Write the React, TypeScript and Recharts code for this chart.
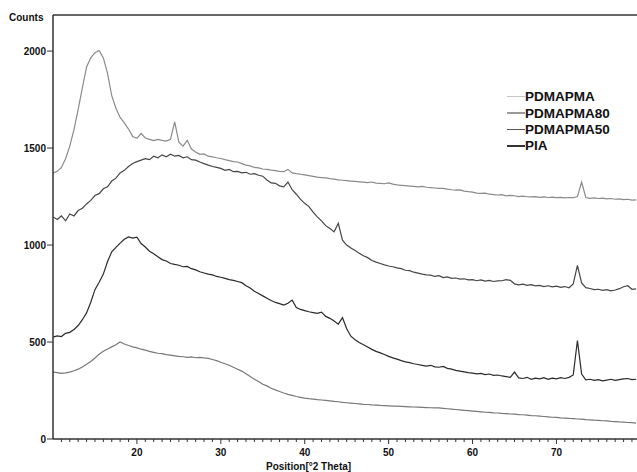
import { Legend, Line, LineChart, ReferenceLine, XAxis, YAxis } from "recharts";

// 2θ positions (degrees), one reading every 0.5°
const twoTheta = [
  10, 10.5, 11, 11.5, 12, 12.5, 13, 13.5, 14, 14.5,
  15, 15.5, 16, 16.5, 17, 17.5, 18, 18.5, 19, 19.5,
  20, 20.5, 21, 21.5, 22, 22.5, 23, 23.5, 24, 24.5,
  25, 25.5, 26, 26.5, 27, 27.5, 28, 28.5, 29, 29.5,
  30, 30.5, 31, 31.5, 32, 32.5, 33, 33.5, 34, 34.5,
  35, 35.5, 36, 36.5, 37, 37.5, 38, 38.5, 39, 39.5,
  40, 40.5, 41, 41.5, 42, 42.5, 43, 43.5, 44, 44.5,
  45, 45.5, 46, 46.5, 47, 47.5, 48, 48.5, 49, 49.5,
  50, 50.5, 51, 51.5, 52, 52.5, 53, 53.5, 54, 54.5,
  55, 55.5, 56, 56.5, 57, 57.5, 58, 58.5, 59, 59.5,
  60, 60.5, 61, 61.5, 62, 62.5, 63, 63.5, 64, 64.5,
  65, 65.5, 66, 66.5, 67, 67.5, 68, 68.5, 69, 69.5,
  70, 70.5, 71, 71.5, 72, 72.5, 73, 73.5, 74, 74.5,
  75, 75.5, 76, 76.5, 77, 77.5, 78, 78.5, 79, 79.5,
];

const pdmapma = [
  1370, 1380, 1400, 1445, 1510, 1595, 1700, 1810, 1918, 1965,
  1992, 2003, 1965, 1885, 1770, 1705, 1658, 1630, 1598, 1560,
  1550, 1575, 1552, 1545, 1538, 1545, 1540, 1536, 1545, 1635,
  1530, 1510, 1540, 1495, 1480, 1468, 1470, 1458, 1455, 1450,
  1446, 1440, 1435, 1430, 1428, 1420, 1412, 1408, 1400, 1398,
  1392, 1390, 1386, 1384, 1380, 1378, 1390, 1372, 1368, 1365,
  1362, 1358, 1354, 1350, 1348, 1346, 1342, 1340, 1336, 1334,
  1332, 1330, 1328, 1326, 1324, 1322, 1325, 1319, 1318, 1316,
  1320, 1314, 1310, 1308, 1306, 1304, 1302, 1300, 1302, 1298,
  1296, 1294, 1292, 1292, 1288, 1285, 1283, 1284, 1278, 1275,
  1273, 1268, 1266, 1268, 1262, 1260, 1258, 1260, 1254, 1256,
  1254, 1250, 1252, 1249, 1248, 1250, 1246, 1248, 1245, 1247,
  1244, 1246, 1243, 1245, 1244, 1250, 1325, 1245, 1241, 1243,
  1240, 1242, 1238, 1240, 1236, 1238, 1234, 1236, 1232, 1233,
];

const pdmapma80 = [
  1145, 1132, 1150, 1125, 1160, 1150, 1178, 1190, 1212, 1230,
  1255, 1265, 1290, 1300, 1330, 1345, 1372, 1385, 1405, 1420,
  1430, 1438, 1445, 1440, 1458, 1450, 1465, 1455, 1468, 1458,
  1462, 1450, 1455, 1440, 1438, 1428, 1420, 1412, 1405, 1400,
  1395, 1385, 1390, 1378, 1380, 1372, 1375, 1365, 1368, 1360,
  1355, 1335, 1320, 1318, 1305, 1300, 1325, 1285, 1262, 1235,
  1215, 1198, 1170, 1145, 1125, 1100, 1085, 1068, 1112, 1025,
  1000, 985, 972, 958, 945, 935, 920, 912, 905, 898,
  892, 888, 882, 878, 870, 868, 860, 855, 850, 846,
  845, 838, 842, 832, 836, 828, 830, 824, 826, 820,
  822, 816, 820, 814, 818, 812, 815, 816, 822, 818,
  800, 795, 798, 792, 796, 790, 792, 786, 790, 784,
  788, 782, 786, 780, 800, 895, 805, 780, 776, 770,
  772, 766, 770, 764, 768, 775, 785, 790, 772, 774,
];

const pdmapma50 = [
  525, 532, 528, 545, 550, 565, 585, 615, 650, 705,
  770, 808, 850, 915, 965, 988, 1010, 1030, 1042, 1036,
  1040, 1008, 990, 968, 955, 940, 925, 918, 905, 900,
  896, 888, 890, 878, 872, 862, 856, 850, 846, 838,
  834, 828, 822, 818, 812, 806, 790, 778, 762, 750,
  738, 726, 714, 704, 698, 690, 700, 716, 678, 668,
  662, 656, 652, 648, 654, 632, 622, 608, 592, 626,
  568, 530, 512, 498, 486, 474, 462, 452, 444, 436,
  426, 418, 412, 404, 398, 394, 388, 384, 380, 376,
  380, 372, 370, 374, 364, 360, 354, 350, 346, 342,
  340, 336, 338, 332, 335, 328, 330, 325, 322, 318,
  345, 315, 312, 318, 308, 314, 310, 316, 308, 314,
  310, 316, 312, 318, 330, 508, 335, 305, 308, 302,
  306, 300, 304, 308, 302, 306, 310, 312, 306, 308,
];

const pia = [
  345, 342, 338, 341, 345, 352, 360, 371, 385, 400,
  418, 437, 452, 464, 475, 486, 500, 490, 482, 475,
  470, 463, 458, 452, 447, 442, 440, 435, 432, 429,
  426, 424, 421, 423, 419, 421, 418, 416, 410, 404,
  396, 388, 380, 370, 360, 350, 336, 322, 308, 296,
  282, 274, 262, 253, 245, 237, 230, 225, 219, 215,
  211, 208, 206, 203, 201, 199, 197, 194, 192, 189,
  187, 185, 183, 181, 179, 178, 176, 175, 173, 172,
  171, 170, 169, 168, 167, 166, 165, 164, 163, 162,
  161, 160, 160, 158, 156, 154, 152, 150, 148, 146,
  144, 142, 140, 138, 137, 135, 134, 132, 131, 129,
  128, 126, 125, 123, 121, 120, 118, 116, 114, 112,
  111, 109, 108, 106, 105, 103, 102, 100, 99, 97,
  96, 94, 93, 91, 90, 88, 87, 85, 84, 82,
];

const xMajorTicks = [20, 30, 40, 50, 60, 70];
const xTicks = [
  11, 12, 13, 14, 15, 16, 17, 18, 19, 20, 21, 22, 23, 24, 25, 26, 27, 28, 29, 30,
  31, 32, 33, 34, 35, 36, 37, 38, 39, 40, 41, 42, 43, 44, 45, 46, 47, 48, 49, 50,
  51, 52, 53, 54, 55, 56, 57, 58, 59, 60, 61, 62, 63, 64, 65, 66, 67, 68, 69, 70,
  71, 72, 73, 74, 75, 76, 77, 78, 79,
];
const yTicks = [0, 500, 1000, 1500, 2000];

const X_MIN = 10;
const X_MAX = 79.6;
const Y_MAX = 2186;

const FONT = '"Liberation Sans", Arial, sans-serif';

const SERIES = [
  { key: "pdmapma", name: "PDMAPMA", stroke: "#8a8a8a", legendColor: "#c6c6c6", legendWidth: 1 },
  { key: "pdmapma80", name: "PDMAPMA80", stroke: "#464646", legendColor: "#9a9a9a", legendWidth: 1.2 },
  { key: "pdmapma50", name: "PDMAPMA50", stroke: "#2a2a2a", legendColor: "#555555", legendWidth: 1.4 },
  { key: "pia", name: "PIA", stroke: "#787878", legendColor: "#333333", legendWidth: 2.6 },
];

const data = twoTheta.map((x, i) => ({
  x,
  pdmapma: pdmapma[i],
  pdmapma80: pdmapma80[i],
  pdmapma50: pdmapma50[i],
  pia: pia[i],
}));

function XTick({ x, y, payload }: { x?: number; y?: number; payload?: { value: number } }) {
  if (x == null || y == null || !payload) return null;
  const major = xMajorTicks.includes(payload.value);
  return (
    <g>
      <line x1={x} x2={x} y1={y} y2={y + (major ? 5 : 3)} stroke="#333" strokeWidth={1} />
      {major && (
        <text
          x={x}
          y={y + 14}
          textAnchor="middle"
          dominantBaseline="middle"
          fontSize={10}
          fontWeight="bold"
          fill="#111"
          fontFamily={FONT}
        >
          {payload.value}
        </text>
      )}
    </g>
  );
}

function LegendBox() {
  return (
    <div style={{ fontFamily: FONT, fontWeight: "bold", fontSize: 13.5, color: "#111" }}>
      {SERIES.map((s) => (
        <div key={s.key} style={{ display: "flex", alignItems: "center", height: 16.4 }}>
          <span style={{ display: "inline-block", width: 18, height: s.legendWidth, background: s.legendColor }} />
          <span>{s.name}</span>
        </div>
      ))}
    </div>
  );
}

export default function App() {
  return (
    <div style={{ position: "absolute", left: 0, top: 0, width: 637, height: 472, background: "#fff" }}>
      <LineChart width={637} height={472} data={data} margin={{ top: 15, right: 0, bottom: 0, left: 0 }}>
        <XAxis
          dataKey="x"
          type="number"
          domain={[X_MIN, X_MAX]}
          ticks={xTicks}
          interval={0}
          tick={(props: any) => <XTick {...props} />}
          tickSize={0}
          tickMargin={0}
          tickLine={false}
          axisLine={{ stroke: "#333", strokeWidth: 1.5 }}
          height={33}
          allowDataOverflow
        />
        <YAxis
          type="number"
          domain={[0, Y_MAX]}
          ticks={yTicks}
          width={53}
          tickSize={6}
          tickMargin={1}
          tickLine={{ stroke: "#333" }}
          axisLine={{ stroke: "#333", strokeWidth: 1.5 }}
          tick={{ fontSize: 10, fontWeight: "bold", fill: "#111", fontFamily: FONT }}
          allowDataOverflow
        />
        <ReferenceLine y={Y_MAX} stroke="#333" strokeWidth={1.5} />
        <Legend
          verticalAlign="middle"
          content={() => <LegendBox />}
          wrapperStyle={{ left: 507, top: 88.5, width: 130 }}
        />
        {SERIES.map((s) => (
          <Line
            key={s.key}
            dataKey={s.key}
            name={s.name}
            type="linear"
            stroke={s.stroke}
            strokeWidth={1.2}
            dot={false}
            activeDot={false}
            isAnimationActive={false}
          />
        ))}
      </LineChart>
      <div
        style={{
          position: "absolute",
          left: 9,
          top: 12,
          fontFamily: FONT,
          fontWeight: "bold",
          fontSize: 10,
          lineHeight: "12px",
          color: "#111",
        }}
      >
        Counts
      </div>
      <div
        style={{
          position: "absolute",
          left: 266,
          top: 461,
          fontFamily: FONT,
          fontWeight: "bold",
          fontSize: 10,
          lineHeight: "12px",
          color: "#111",
          whiteSpace: "nowrap",
        }}
      >
        Position[°2 Theta]
      </div>
    </div>
  );
}
